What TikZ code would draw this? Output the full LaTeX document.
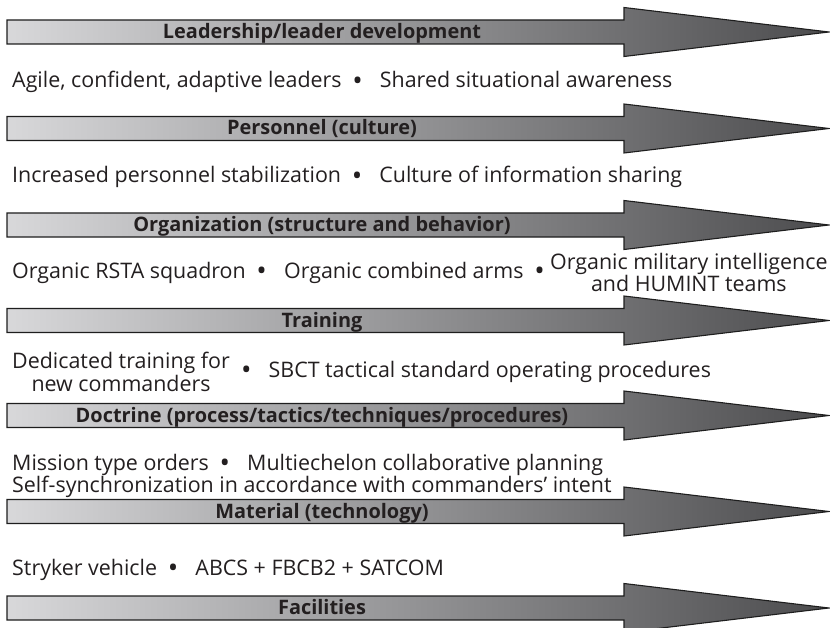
\documentclass[tikz,border=0pt]{standalone}
\usepackage{fontspec}
\setmainfont{Open Sans}
\usetikzlibrary{positioning}
\definecolor{bandlight}{RGB}{216,216,218}
\definecolor{banddark}{RGB}{76,76,78}
\definecolor{bandline}{RGB}{30,30,30}
\definecolor{textdark}{RGB}{35,31,32}
\newcommand{\bigbul}{\raisebox{-0.1em}{\scalebox{1.3}{\textbullet}}}
\newcommand{\bul}{\hspace{0.5em}\bigbul\hspace{0.8em}}
\begin{document}
\begin{tikzpicture}[x=1bp, y=-1bp,
    band/.style={draw=bandline, line width=1.1bp, line join=miter,
      left color=bandlight, right color=banddark},
    pics/bandarrow/.style={code={
      \path[band] (0,-12) -- (617,-12) -- (617,-24.5) -- (822,0)
        -- (617,24.5) -- (617,12) -- (0,12) -- cycle;}},
    bandlabel/.style={anchor=base, inner sep=0pt,
      font=\fontsize{20}{22}\selectfont\bfseries, text=textdark},
    item/.style={inner sep=0pt, font=\fontsize{21.5}{21}\selectfont, text=textdark},
    itemlines/.style={item, align=left}]
  \useasboundingbox (0,0) rectangle (830,628);

  \pic at (7,32) {bandarrow};
  \node[bandlabel] (lead) at (322,38.5) {Leadership/leader development};
  \node[item, anchor=base west] (agile) at (12,88)
    {Agile, confident, adaptive leaders\bul Shared situational awareness};

  \pic at (7,128.5) {bandarrow};
  \node[bandlabel] (pers) at (322,135) {Personnel (culture)};
  \node[item, anchor=base west] (incr) at (12,183)
    {Increased personnel stabilization\bul Culture of information sharing};

  \pic at (7,225) {bandarrow};
  \node[bandlabel] (orgn) at (322,231.5) {Organization (structure and behavior)};
  \node[item, anchor=base west] (rsta) at (12,278)
    {Organic RSTA squadron\bul Organic combined arms\hspace{0.5em}\bigbul};
  \node[itemlines, align=center, right=5bp of rsta] (milint)
    {Organic military intelligence\\and HUMINT teams};

  \pic at (7,320.5) {bandarrow};
  \node[bandlabel] (train) at (322,327) {Training};
  \node[itemlines, align=center, anchor=west] (dedic) at (12,372)
    {Dedicated training for\\new commanders};
  \node[item, right=0bp of dedic] (sbct)
    {\bul SBCT tactical standard operating procedures};

  \pic at (7,415.5) {bandarrow};
  \node[bandlabel] (doct) at (322,422)
    {Doctrine (process/tactics/techniques/procedures)};
  \node[itemlines, anchor=west] (miss) at (12,476)
    {Mission type orders\bul Multiechelon collaborative planning\\
     Self-synchronization in accordance with commanders’ intent};

  \pic at (7,511.5) {bandarrow};
  \node[bandlabel] (matl) at (322,518) {Material (technology)};
  \node[item, anchor=base west] (stryk) at (12,575)
    {Stryker vehicle\bul ABCS + FBCB2 + SATCOM};

  \pic at (7,608) {bandarrow};
  \node[bandlabel] (facil) at (322,614.5) {Facilities};
\end{tikzpicture}
\end{document}
